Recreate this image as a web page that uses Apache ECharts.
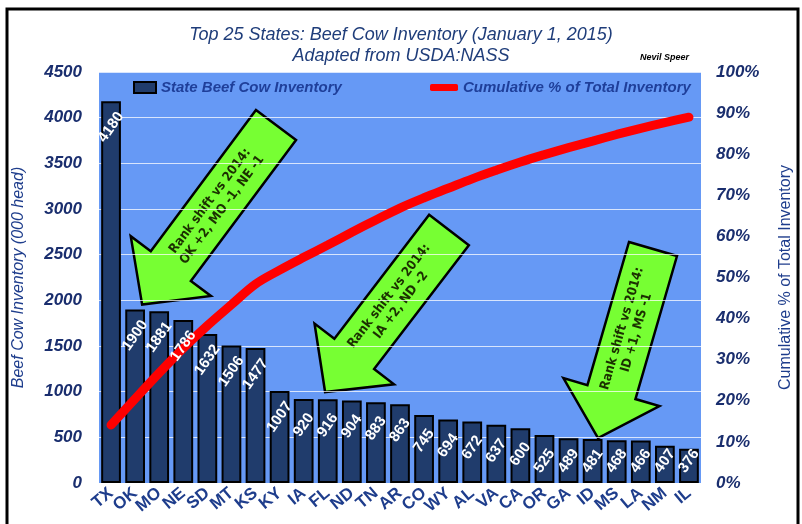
<!DOCTYPE html>
<html>
<head>
<meta charset="utf-8">
<script src="https://cdn.jsdelivr.net/npm/echarts@6/dist/echarts.min.js"></script>
<style>
html, body { margin: 0; padding: 0; background: #fff; }
#chart { width: 802px; height: 524px; }
</style>
</head>
<body>
<div id="chart"></div>
<script>
// data
var states = ['TX','OK','MO','NE','SD','MT','KS','KY','IA','FL','ND','TN','AR','CO','WY','AL','VA','CA','OR','GA','ID','MS','LA','NM','IL'];
var inventory = [4180,1900,1881,1786,1632,1506,1477,1007,920,916,904,883,863,745,694,672,637,600,525,489,481,468,466,407,376];
var cumulativePct = [14.1,20.5,26.8,32.8,38.3,43.4,48.4,51.8,54.9,57.9,61.0,64.0,66.9,69.4,71.7,74.0,76.1,78.1,79.9,81.6,83.2,84.8,86.3,87.7,89.0];
var arrowNotes = [
	'Rank shift vs 2014:\nOK +2, MO -1, NE -1',
	'Rank shift vs 2014:\nIA +2, ND -2',
	'Rank shift vs 2014:\nID +1, MS -1'
];

var navy = '#1e3d8c', fontF = '"Liberation Sans", Arial, sans-serif';
var plotH = 411;   // px height of the value axis (0..4500)

// arrow annotation: tail centre x,y, total length, tilt from vertical (deg)
function arrow(x, y, len, tilt, note) {
	var w = 25, W = 50, head = 48, L1 = len - head;
	return {
		type: 'group', x: x, y: y, rotation: -tilt * Math.PI / 180, z: 100,
		children: [{
			type: 'polygon',
			shape: { points: [[-w,0],[w,0],[w,L1],[W,L1],[0,len],[-W,L1],[-w,L1]] },
			style: { fill: '#77ff33', stroke: '#000', lineWidth: 2.5 }
		}, {
			type: 'text', x: 0, y: L1 * 0.57, rotation: Math.PI / 2,
			style: {
				text: note, align: 'center', verticalAlign: 'middle',
				font: 'bold 13px "Liberation Sans Narrow", "DejaVu Sans Condensed", sans-serif',
				lineHeight: 15, fill: '#1b3000'
			}
		}]
	};
}

var labelData = inventory.map(function (v) {
	var h = v / 4500 * plotH;
	return { value: v, label: { position: ['50%', Math.min(26, h - 22)] } };
});

var myChart = echarts.init(document.getElementById('chart'));
var option = {
	backgroundColor: '#fff',
	animation: false,
	title: {
		text: 'Top 25 States: Beef Cow Inventory (January 1, 2015)\nAdapted from USDA:NASS',
		left: 'center', top: 19,
		textStyle: { fontSize: 18, fontStyle: 'italic', fontWeight: 'normal', color: '#1f3d7a', lineHeight: 21, fontFamily: fontF }
	},
	legend: [{
		left: 128, top: 75,
		itemWidth: 22, itemHeight: 11,
		data: [{ name: 'State Beef Cow Inventory', icon: 'rect' }],
		textStyle: { fontSize: 15, fontStyle: 'italic', fontWeight: 'bold', color: '#1f3f9a', fontFamily: fontF }
	}, {
		left: 425, top: 75,
		itemWidth: 28, itemHeight: 7,
		data: [{ name: 'Cumulative % of Total Inventory', icon: 'roundRect' }],
		textStyle: { fontSize: 15, fontStyle: 'italic', fontWeight: 'bold', color: '#1f3f9a', fontFamily: fontF }
	}],
	grid: {
		left: 99, right: 94, top: 72, bottom: 41,
		show: true, backgroundColor: '#6699f5', borderWidth: 0
	},
	xAxis: {
		type: 'category',
		data: states,
		axisLine: { show: false },
		axisTick: { show: false },
		axisLabel: { interval: 0, rotate: 40, margin: 8, fontSize: 17, fontWeight: 'bold', color: navy, fontFamily: fontF }
	},
	yAxis: [{
		type: 'value', min: 0, max: 4500, interval: 500,
		name: 'Beef Cow Inventory (000 head)', nameLocation: 'middle', nameGap: 72, nameRotate: 90,
		nameTextStyle: { fontSize: 16, fontStyle: 'italic', color: navy, fontFamily: fontF },
		axisLine: { show: false }, axisTick: { show: false },
		axisLabel: {
			margin: 17, fontSize: 17, fontWeight: 'bold', fontStyle: 'italic', color: '#1a2e6e', fontFamily: fontF,
			formatter: function (v) { return String(v); }
		},
		splitLine: { lineStyle: { color: 'rgba(255,255,255,0.75)', width: 1 } }
	}, {
		type: 'value', min: 0, max: 100, interval: 10, position: 'right',
		name: 'Cumulative % of Total Inventory', nameLocation: 'middle', nameGap: 77, nameRotate: 90,
		nameTextStyle: { fontSize: 16, color: navy, fontFamily: fontF },
		axisLine: { show: false }, axisTick: { show: false },
		axisLabel: { margin: 15, formatter: '{value}%', fontSize: 17, fontWeight: 'bold', fontStyle: 'italic', color: '#1a2e6e', fontFamily: fontF },
		splitLine: { show: false }
	}],
	series: [{
		name: 'State Beef Cow Inventory',
		type: 'bar',
		data: inventory,
		barCategoryGap: '18%', barGap: '-100%',
		itemStyle: { color: '#203c6c', borderColor: '#000', borderWidth: 2 },
		z: 2
	}, {
		name: 'Cumulative % of Total Inventory',
		type: 'line',
		yAxisIndex: 1,
		data: cumulativePct,
		smooth: 0.35,
		symbol: 'none',
		itemStyle: { color: '#ff0000' },
		lineStyle: { color: '#ff0000', width: 9, cap: 'round' },
		z: 3
	}, {
		name: 'values',
		type: 'bar',
		data: labelData,
		barCategoryGap: '18%', barGap: '-100%',
		silent: true,
		itemStyle: { color: 'rgba(0,0,0,0)', borderWidth: 0 },
		label: {
			show: true, rotate: 55, align: 'center', verticalAlign: 'middle',
			color: '#fff', fontSize: 15, fontWeight: 'bold', fontFamily: fontF
		},
		z: 4
	}],
	graphic: [{
		type: 'rect', silent: true, z: 50,
		shape: { x: 7, y: 9, width: 791, height: 530 },
		style: { fill: 'none', stroke: '#000', lineWidth: 3 }
	}, {
		type: 'text', x: 640, y: 53, z: 50,
		style: { text: 'Nevil Speer', font: 'italic bold 9px ' + fontF, fill: '#000' }
	},
	arrow(276, 125, 224, 36.7, arrowNotes[0]),
	arrow(449, 230, 204, 37.4, arrowNotes[1]),
	arrow(653, 249, 197, 16.2, arrowNotes[2])
	]
};
myChart.setOption(option);
</script>
</body>
</html>
